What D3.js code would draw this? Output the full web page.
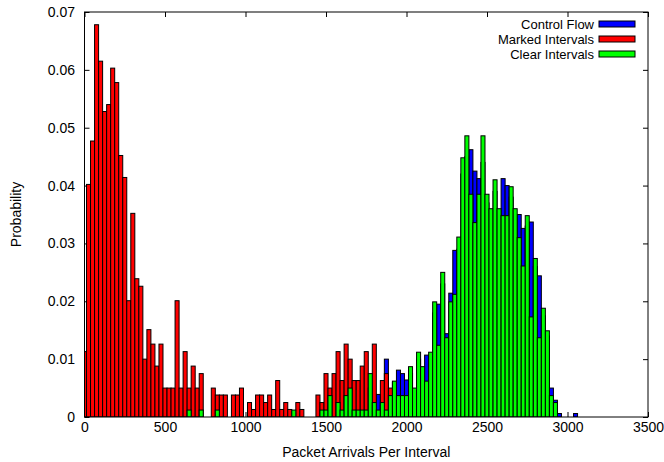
<!DOCTYPE html>
<html>
<head>
<meta charset="utf-8">
<script src="https://cdn.jsdelivr.net/npm/d3@7.9.0/dist/d3.min.js"></script>
<style>
  body { margin: 0; background: #fff; }
  svg text { font-family: "Liberation Sans", Arial, Helvetica, sans-serif; font-size: 14px; fill: #000; }
</style>
</head>
<body>
<svg id="chart" width="664" height="462"></svg>
<script>
// histogram bins are 25 packets wide, bin i is centred on i * 25
const binWidth = 25;

// Control Flow, bins 0..122
const controlFlow = [
  0, 0, 0, 0, 0, 0, 0, 0, 0, 0,
  0, 0, 0, 0, 0, 0, 0, 0, 0, 0,
  0, 0, 0, 0, 0, 0, 0, 0, 0, 0,
  0, 0, 0, 0, 0, 0, 0, 0, 0, 0,
  0, 0, 0, 0, 0, 0, 0, 0, 0, 0,
  0, 0, 0, 0, 0, 0, 0, 0, 0, 0,
  0, 0, 0, 0, 0, 0, 0, 0, 0, 0.0010,
  0.0010, 0.0020, 0.0020, 0.0039, 0.0020, 0.0100, 0.0030, 0.0060, 0.0081, 0.0075,
  0.0064, 0.0075, 0.0045, 0.0100, 0.0080, 0.0107, 0.0100, 0.0180, 0.0195, 0.0230,
  0.0144, 0.0214, 0.0288, 0.0290, 0.0420, 0.0450, 0.0462, 0.0425, 0.0412, 0.0440,
  0.0370, 0.0350, 0.0390, 0.0350, 0.0412, 0.0400, 0.0380, 0.0350, 0.0350, 0.0326,
  0.0330, 0.0337, 0.0260, 0.0244, 0.0175, 0.0140, 0.0050, 0.0029, 0.0006, 0,
  0, 0, 0.0006
];

// Marked Intervals, bins 0..76
const markedIntervals = [
  0.0113, 0.0402, 0.0477, 0.0678, 0.0615, 0.0528, 0.0540, 0.0603, 0.0578, 0.0452,
  0.0414, 0.0201, 0.0352, 0.0239, 0.0226, 0.0100, 0.0151, 0.0126, 0.0088, 0.0126,
  0.0050, 0.0050, 0.0050, 0.0201, 0.0050, 0.0113, 0.0050, 0.0088, 0.0050, 0.0075,
  0, 0, 0.0050, 0.0038, 0.0038, 0.0038, 0, 0.0038, 0.0038, 0.0050,
  0, 0.0025, 0.0013, 0.0038, 0.0038, 0.0025, 0.0038, 0.0013, 0.0063, 0.0013,
  0.0025, 0.0013, 0, 0.0025, 0.0013, 0, 0, 0, 0.0038, 0.0025,
  0.0075, 0.0050, 0.0075, 0.0113, 0.0063, 0.0126, 0.0100, 0.0063, 0.0063, 0.0088,
  0.0113, 0.0050, 0.0126, 0, 0.0063, 0.0075, 0.0050
];

// Clear Intervals, bins 0..117
const clearIntervals = [
  0, 0, 0, 0, 0, 0, 0, 0, 0, 0,
  0, 0, 0, 0, 0, 0, 0, 0, 0, 0,
  0, 0, 0, 0, 0, 0, 0.0012, 0, 0, 0.0012,
  0, 0, 0, 0.0012, 0, 0, 0, 0, 0, 0,
  0, 0, 0, 0, 0, 0, 0, 0, 0, 0,
  0, 0, 0.0012, 0, 0, 0, 0, 0, 0, 0.0012,
  0.0012, 0.0037, 0, 0.0025, 0.0012, 0.0037, 0.0050, 0.0012, 0.0012, 0.0012,
  0.0012, 0.0075, 0.0025, 0.0012, 0.0025, 0.0012, 0.0037, 0.0062, 0.0037, 0.0037,
  0.0037, 0.0087, 0.0050, 0.0112, 0.0087, 0.0062, 0.0112, 0.0199, 0.0124, 0.0250,
  0.0137, 0.0199, 0.0212, 0.0311, 0.0448, 0.0486, 0.0385, 0.0336, 0.0385, 0.0486,
  0.0385, 0.0360, 0.0410, 0.0360, 0.0348, 0.0348, 0.0398, 0.0360, 0.0310, 0.0261,
  0.0348, 0.0173, 0.0274, 0.0137, 0.0188, 0.0149, 0.0037, 0.0025
];

const xTicks = [0, 500, 1000, 1500, 2000, 2500, 3000, 3500];
const yTicks = [0, 0.01, 0.02, 0.03, 0.04, 0.05, 0.06, 0.07];
const yTickLabels = ["0", "0.01", "0.02", "0.03", "0.04", "0.05", "0.06", "0.07"];

// drawn in this order, later series on top
const series = [
  { name: "Control Flow", values: controlFlow, color: "#0000ff" },
  { name: "Marked Intervals", values: markedIntervals, color: "#ff0000" },
  { name: "Clear Intervals", values: clearIntervals, color: "#00ff00" }
];

const plot = { left: 84.5, right: 648, top: 12, bottom: 417 };
const x = d3.scaleLinear().domain([0, 3500]).range([plot.left, plot.right]);
const y = d3.scaleLinear().domain([0, 0.07]).range([plot.bottom, plot.top]);

const svg = d3.select("#chart");

svg.append("clipPath").attr("id", "plot-clip")
  .append("rect")
  .attr("x", plot.left).attr("y", plot.top)
  .attr("width", plot.right - plot.left).attr("height", plot.bottom - plot.top);

// ticks on all four sides, pointing in
const tick = 5;
svg.append("g")
  .attr("transform", `translate(0,${plot.bottom})`)
  .call(d3.axisBottom(x).tickValues(xTicks).tickSizeInner(-tick).tickSizeOuter(0).tickPadding(5)
    .tickFormat(d => String(d)))
  .call(g => g.select(".domain").remove());
svg.append("g")
  .attr("transform", `translate(0,${plot.top})`)
  .call(d3.axisTop(x).tickValues(xTicks).tickSizeInner(-tick).tickSizeOuter(0).tickFormat(""))
  .call(g => g.select(".domain").remove());
svg.append("g")
  .attr("transform", `translate(${plot.left},0)`)
  .call(d3.axisLeft(y).tickValues(yTicks).tickSizeInner(-tick).tickSizeOuter(0).tickPadding(9.5)
    .tickFormat((d, i) => yTickLabels[i]))
  .call(g => g.select(".domain").remove());
svg.append("g")
  .attr("transform", `translate(${plot.right},0)`)
  .call(d3.axisRight(y).tickValues(yTicks).tickSizeInner(-tick).tickSizeOuter(0).tickFormat(""))
  .call(g => g.select(".domain").remove());

svg.selectAll(".tick text")
  .attr("font-family", null).attr("font-size", null);

// bars
const bars = svg.append("g").attr("clip-path", "url(#plot-clip)");
series.forEach(s => {
  const data = s.values.map((v, i) => ({ x: i * binWidth, v })).filter(d => d.v > 0);
  bars.append("g")
    .selectAll("rect")
    .data(data)
    .join("rect")
    .attr("x", d => x(d.x - binWidth / 2))
    .attr("width", d => x(d.x + binWidth / 2) - x(d.x - binWidth / 2))
    .attr("y", d => y(d.v))
    .attr("height", d => y(0) - y(d.v))
    .attr("fill", s.color)
    .attr("stroke", "#000")
    .attr("stroke-width", 1);
});

// frame
svg.append("rect")
  .attr("x", plot.left).attr("y", plot.top)
  .attr("width", plot.right - plot.left).attr("height", plot.bottom - plot.top)
  .attr("fill", "none").attr("stroke", "#000").attr("stroke-width", 1);

// legend
const legend = svg.append("g");
series.forEach((s, i) => {
  const cy = 24 + i * 15;
  legend.append("text")
    .attr("x", 594).attr("y", cy).attr("dy", "0.35em")
    .attr("text-anchor", "end")
    .style("font-size", "13px")
    .text(s.name);
  legend.append("rect")
    .attr("x", 599).attr("y", cy - 3)
    .attr("width", 36).attr("height", 6)
    .attr("fill", s.color).attr("stroke", "#000").attr("stroke-width", 1);
});

// axis titles
svg.append("text")
  .attr("x", (plot.left + plot.right) / 2).attr("y", 457)
  .attr("text-anchor", "middle")
  .text("Packet Arrivals Per Interval");
svg.append("text")
  .attr("transform", `translate(21,${(plot.top + plot.bottom) / 2}) rotate(-90)`)
  .attr("text-anchor", "middle")
  .text("Probability");
</script>
</body>
</html>
